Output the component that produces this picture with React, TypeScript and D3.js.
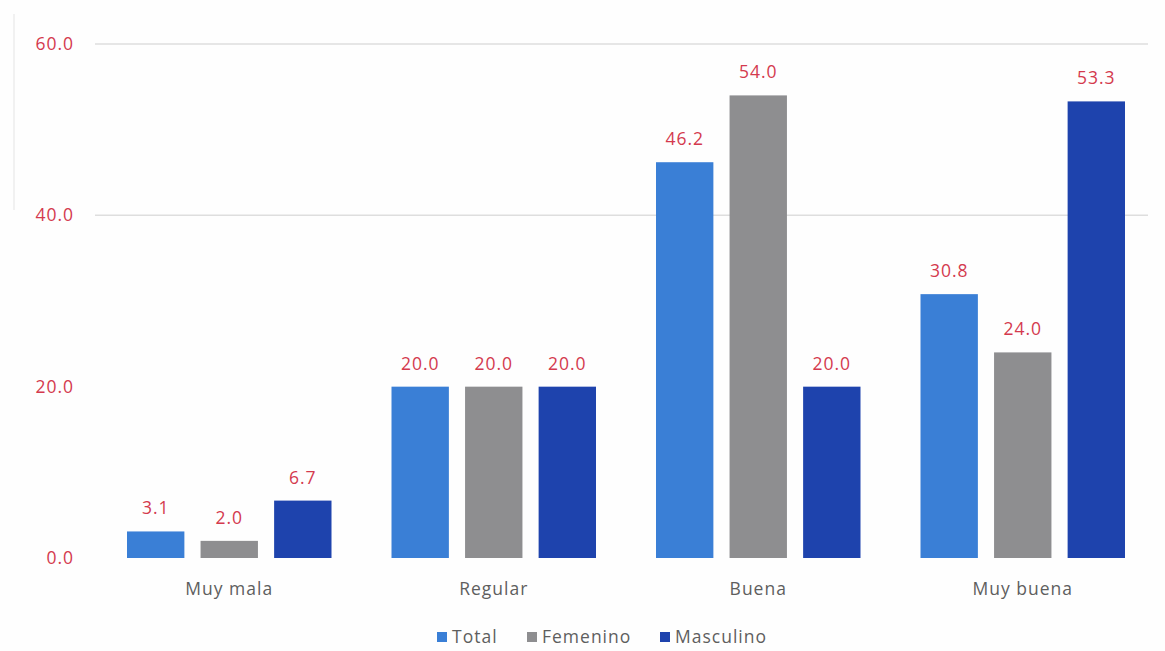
import React from "react";
import * as d3 from "d3";

const categories = ["Muy mala", "Regular", "Buena", "Muy buena"];
const seriesNames = ["Total", "Femenino", "Masculino"];
const totalValues = [3.1, 20.0, 46.2, 30.8];
const femeninoValues = [2.0, 20.0, 54.0, 24.0];
const masculinoValues = [6.7, 20.0, 20.0, 53.3];
const yTicks = [0, 20, 40, 60];
const gridTicks = [40, 60];

const seriesValues = [totalValues, femeninoValues, masculinoValues];
const colors = ["#3a7fd6", "#8e8e90", "#1e43ad"];

const W = 1165;
const H = 651;
const FONT = "'Open Sans', 'DejaVu Sans', sans-serif";
const FS = 17.5;
const LS = 1;

export default function App() {
  const x0 = d3.scaleBand<string>().domain(categories).range([97, 1155]).paddingInner(0).paddingOuter(0);
  const x1 = d3
    .scaleBand<string>()
    .domain(seriesNames)
    .range([30, x0.bandwidth() - 30])
    .paddingInner(0.22);
  const y = d3.scaleLinear().domain([0, 60]).range([558, 44]);

  const legendX = [437, 527, 660];

  return (
    <svg
      width={W}
      height={H}
      style={{ position: "absolute", left: 0, top: 0, background: "#ffffff" }}
    >
      <rect x={0} y={0} width={W} height={H} fill="#fefefe" />
      <line x1={14} x2={14} y1={14} y2={210} stroke="#ececec" strokeWidth={1.5} />
      {gridTicks.map((t) => (
        <line key={t} x1={95} x2={1148} y1={y(t)} y2={y(t)} stroke="#dedede" strokeWidth={1.5} />
      ))}
      {yTicks.map((t) => (
        <text
          key={t}
          x={74}
          y={y(t)}
          dy="0.35em"
          textAnchor="end"
          fontFamily={FONT}
          fontSize={FS}
          letterSpacing={LS}
          fill="#d43a4e"
        >
          {d3.format(".1f")(t)}
        </text>
      ))}
      {categories.map((c, ci) => (
        <g key={c} transform={`translate(${x0(c)},0)`}>
          {seriesNames.map((s, si) => {
            const v = seriesValues[si][ci];
            const bx = x1(s)!;
            return (
              <g key={s}>
                <rect
                  x={bx}
                  y={y(v)}
                  width={x1.bandwidth()}
                  height={y(0) - y(v)}
                  fill={colors[si]}
                />
                <text
                  x={bx + x1.bandwidth() / 2}
                  y={y(v) - 17}
                  textAnchor="middle"
                  fontFamily={FONT}
                  fontSize={FS}
                  letterSpacing={LS}
                  fill="#d43a4e"
                >
                  {d3.format(".1f")(v)}
                </text>
              </g>
            );
          })}
          <text
            x={x0.bandwidth() / 2}
            y={589}
            dy="0.35em"
            textAnchor="middle"
            fontFamily={FONT}
            fontSize={FS}
            letterSpacing={LS}
            fill="#5e5e5e"
          >
            {c}
          </text>
        </g>
      ))}
      {seriesNames.map((s, si) => (
        <g key={s} transform={`translate(${legendX[si]},637)`}>
          <rect x={0} y={-5} width={10} height={10} fill={colors[si]} />
          <text
            x={15}
            y={0}
            dy="0.35em"
            fontFamily={FONT}
            fontSize={FS}
            letterSpacing={LS}
            fill="#5e5e5e"
          >
            {s}
          </text>
        </g>
      ))}
    </svg>
  );
}
